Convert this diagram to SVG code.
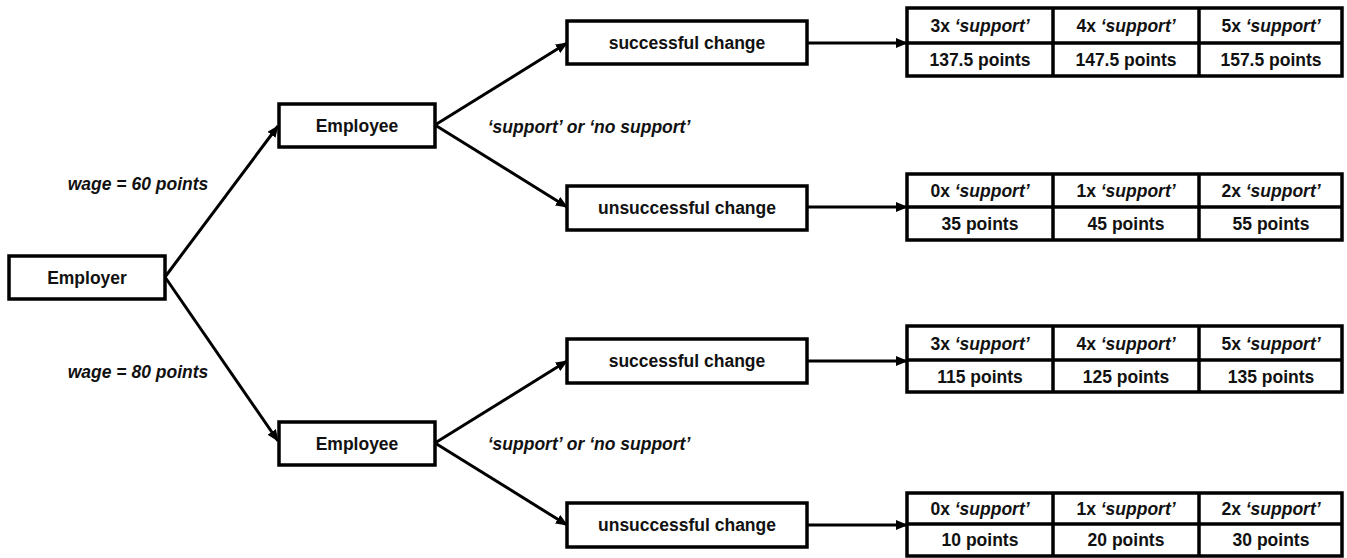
<svg xmlns="http://www.w3.org/2000/svg" width="1347" height="558" viewBox="0 0 1347 558">
<style>
.box{fill:#fff;stroke:#000;stroke-width:3.5}
.t{font-family:"Liberation Sans",Arial,sans-serif;font-size:17.5px;font-weight:bold;fill:#111;text-anchor:middle}
.i{font-style:italic}
.ln{stroke:#000;stroke-width:3;fill:none}
.tl{stroke:#000;stroke-width:3.5;fill:none}
</style>
<defs>
<marker id="ah" markerUnits="userSpaceOnUse" markerWidth="12" markerHeight="10" refX="11" refY="5" orient="auto">
<path d="M0,0 L12,5 L0,10 z" fill="#000"/>
</marker>
</defs>
<rect width="1347" height="558" fill="#fff"/>
<g id="connectors">
<line class="ln" x1="165" y1="277" x2="278" y2="126" marker-end="url(#ah)"/>
<line class="ln" x1="165" y1="277" x2="278" y2="441" marker-end="url(#ah)"/>
<line class="ln" x1="435" y1="125" x2="567" y2="43" marker-end="url(#ah)"/>
<line class="ln" x1="435" y1="125" x2="567" y2="207" marker-end="url(#ah)"/>
<line class="ln" x1="435" y1="443" x2="567" y2="361" marker-end="url(#ah)"/>
<line class="ln" x1="435" y1="443" x2="567" y2="525" marker-end="url(#ah)"/>
<line class="ln" x1="807" y1="43" x2="907" y2="43" marker-end="url(#ah)"/>
<line class="ln" x1="807" y1="207" x2="907" y2="207" marker-end="url(#ah)"/>
<line class="ln" x1="807" y1="361" x2="907" y2="361" marker-end="url(#ah)"/>
<line class="ln" x1="807" y1="525" x2="907" y2="525" marker-end="url(#ah)"/>
<text class="t i" x="138" y="190">wage = 60 points</text>
<text class="t i" x="138" y="378">wage = 80 points</text>
<text class="t i" x="589" y="133">‘support’ or ‘no support’</text>
<text class="t i" x="589" y="450">‘support’ or ‘no support’</text>
</g>
<g id="employer"><rect class="box" x="9" y="256" width="156" height="43"/><text class="t" x="87" y="284">Employer</text></g>
<g id="employee1"><rect class="box" x="279" y="104" width="156" height="43"/><text class="t" x="357" y="132">Employee</text></g>
<g id="employee2"><rect class="box" x="279" y="422" width="156" height="43"/><text class="t" x="357" y="450">Employee</text></g>
<g id="success1"><rect class="box" x="567" y="21" width="240" height="43"/><text class="t" x="687" y="49">successful change</text></g>
<g id="fail1"><rect class="box" x="567" y="186" width="240" height="44"/><text class="t" x="687" y="214">unsuccessful change</text></g>
<g id="success2"><rect class="box" x="567" y="339" width="240" height="44"/><text class="t" x="687" y="367">successful change</text></g>
<g id="fail2"><rect class="box" x="567" y="503" width="240" height="44"/><text class="t" x="687" y="531">unsuccessful change</text></g>
<g id="table1">
<rect class="box" x="907" y="8" width="435" height="68"/>
<line class="tl" x1="907" y1="43" x2="1342" y2="43"/>
<line class="tl" x1="1053" y1="8" x2="1053" y2="76"/>
<line class="tl" x1="1199" y1="8" x2="1199" y2="76"/>
<text class="t" x="980" y="32">3x <tspan class="i">‘support’</tspan></text>
<text class="t" x="1126" y="32">4x <tspan class="i">‘support’</tspan></text>
<text class="t" x="1271" y="32">5x <tspan class="i">‘support’</tspan></text>
<text class="t" x="980" y="66">137.5 points</text>
<text class="t" x="1126" y="66">147.5 points</text>
<text class="t" x="1271" y="66">157.5 points</text>
</g>
<g id="table2">
<rect class="box" x="907" y="174" width="435" height="66"/>
<line class="tl" x1="907" y1="207" x2="1342" y2="207"/>
<line class="tl" x1="1053" y1="174" x2="1053" y2="240"/>
<line class="tl" x1="1199" y1="174" x2="1199" y2="240"/>
<text class="t" x="980" y="197">0x <tspan class="i">‘support’</tspan></text>
<text class="t" x="1126" y="197">1x <tspan class="i">‘support’</tspan></text>
<text class="t" x="1271" y="197">2x <tspan class="i">‘support’</tspan></text>
<text class="t" x="980" y="230">35 points</text>
<text class="t" x="1126" y="230">45 points</text>
<text class="t" x="1271" y="230">55 points</text>
</g>
<g id="table3">
<rect class="box" x="907" y="326" width="435" height="66"/>
<line class="tl" x1="907" y1="360" x2="1342" y2="360"/>
<line class="tl" x1="1053" y1="326" x2="1053" y2="392"/>
<line class="tl" x1="1199" y1="326" x2="1199" y2="392"/>
<text class="t" x="980" y="350">3x <tspan class="i">‘support’</tspan></text>
<text class="t" x="1126" y="350">4x <tspan class="i">‘support’</tspan></text>
<text class="t" x="1271" y="350">5x <tspan class="i">‘support’</tspan></text>
<text class="t" x="980" y="383">115 points</text>
<text class="t" x="1126" y="383">125 points</text>
<text class="t" x="1271" y="383">135 points</text>
</g>
<g id="table4">
<rect class="box" x="907" y="493" width="435" height="63"/>
<line class="tl" x1="907" y1="524" x2="1342" y2="524"/>
<line class="tl" x1="1053" y1="493" x2="1053" y2="556"/>
<line class="tl" x1="1199" y1="493" x2="1199" y2="556"/>
<text class="t" x="980" y="515">0x <tspan class="i">‘support’</tspan></text>
<text class="t" x="1126" y="515">1x <tspan class="i">‘support’</tspan></text>
<text class="t" x="1271" y="515">2x <tspan class="i">‘support’</tspan></text>
<text class="t" x="980" y="546">10 points</text>
<text class="t" x="1126" y="546">20 points</text>
<text class="t" x="1271" y="546">30 points</text>
</g>
</svg>
